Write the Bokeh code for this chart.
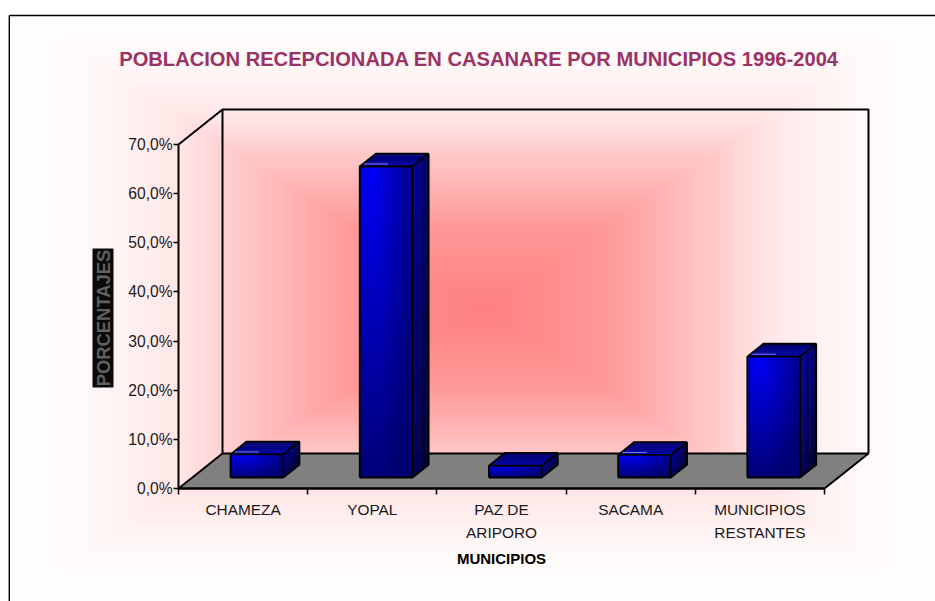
import numpy as np
from bokeh.embed import file_html
from bokeh.models import FixedTicker, Label, Range1d
from bokeh.plotting import figure
from bokeh.resources import INLINE

TITLE = "POBLACION RECEPCIONADA EN CASANARE POR MUNICIPIOS 1996-2004"
CATEGORIES = ["CHAMEZA", "YOPAL", "PAZ DE\nARIPORO", "SACAMA", "MUNICIPIOS\nRESTANTES"]
VALUES = [4.7, 63.3, 2.4, 4.6, 24.6]
Y_TICKS = [0, 10, 20, 30, 40, 50, 60, 70]
Y_LABELS = ["0,0%", "10,0%", "20,0%", "30,0%", "40,0%", "50,0%", "60,0%", "70,0%"]
X_TITLE = "MUNICIPIOS"
Y_TITLE = "PORCENTAJES"

W, H = 935, 601
PX_U = 129.2
PX_V = 4.914
X0_PAGE, Y0_PAGE = 178.0, 488.0
DEPTH_U = 44 / PX_U
DEPTH_V = 35 / PX_V
BAR_W = 0.408
BAR_Z0, BAR_Z1 = 0.314, 0.68


def X(page_x):
    return (page_x - X0_PAGE) / PX_U


def Y(page_y):
    return (Y0_PAGE - page_y) / PX_V


p = figure(
    width=W, height=H, output_backend="svg", toolbar_location=None,
    x_range=Range1d(X(0), X(W)), y_range=Range1d(Y(H), Y(0)),
    min_border=0, min_border_left=0, min_border_right=0, min_border_top=0, min_border_bottom=0,
    x_axis_location="below", y_axis_location="left",
)
p.outline_line_color = None
p.grid.visible = False
p.background_fill_color = "white"
p.border_fill_color = "white"

# chart-wide rectangular path gradient
cx, cy = 480.0, 308.0
yy, xx = np.mgrid[0:H, 0:W]
px = xx + 0.5
py = (H - 1 - yy) + 0.5  # image rows run upward
tx = np.where(px < cx, (cx - px) / 450.0, (px - cx) / 430.0)
ty = np.where(py < cy, (cy - py) / 285.0, (py - cy) / 275.0)
t = np.clip(np.maximum(tx, ty), 0, 1)
a = np.interp(t, [0, 0.29, 0.55, 0.67, 0.8, 0.92, 1], [1, 0.8, 0.4, 0.19, 0.09, 0.03, 0.012])
bg = np.zeros((H, W), dtype=np.uint32)
view = bg.view(np.uint8).reshape((H, W, 4))
g = (255 - 127 * a).astype(np.uint8)
outside = (px < 9) | (py < 15)
g[outside] = 255
view[..., 0] = 255
view[..., 1] = g
view[..., 2] = g
view[..., 3] = 255
p.image_rgba(image=[bg], x=[X(0)], y=[Y(H)], dw=[W / PX_U], dh=[H / PX_V])

# outer frame
p.segment(x0=[X(8.8), X(8.8)], y0=[Y(15), Y(15)], x1=[X(W), X(8.8)], y1=[Y(15), Y(H)],
          line_color="black", line_width=1.4)

# floor
n = len(CATEGORIES)
p.patch([0, n, n + DEPTH_U, DEPTH_U], [0, 0, DEPTH_V, DEPTH_V], fill_color="#808080",
        line_color="black", line_width=2)
# walls
top = Y_TICKS[-1]
p.line([0, DEPTH_U, n + DEPTH_U, n + DEPTH_U], [top, top + DEPTH_V, top + DEPTH_V, DEPTH_V],
       line_color="black", line_width=2)
p.line([DEPTH_U, DEPTH_U], [DEPTH_V, top + DEPTH_V], line_color="black", line_width=2)


def lerp_col(c1, c2, f):
    return "#%02x%02x%02x" % tuple(int(round(a_ + (b_ - a_) * f)) for a_, b_ in zip(c1, c2))


for i, v in enumerate(VALUES):
    xc = i + 0.5
    x0 = xc - BAR_W / 2 + BAR_Z0 * DEPTH_U
    x1 = x0 + BAR_W
    y0 = BAR_Z0 * DEPTH_V
    y1 = y0 + v
    dxb = (BAR_Z1 - BAR_Z0) * DEPTH_U
    dyb = (BAR_Z1 - BAR_Z0) * DEPTH_V

    # side face: slanted strips
    ns, nv = 7, 6
    for s in range(ns):
        fa, fb = s / ns, (s + 1) / ns
        for k in range(nv):
            ga, gb = k / nv, (k + 1) / nv
            shade = (0.5 * fa + 0.5 * ga)
            c = lerp_col((0, 0, 150), (0, 0, 28), shade)
            xs = [x1 + dxb * fa, x1 + dxb * fb, x1 + dxb * fb, x1 + dxb * fa]
            ya = y1 - v * ga
            yb = y1 - v * gb
            ys = [ya + dyb * fa, ya + dyb * fb, yb + dyb * fb, yb + dyb * fa]
            p.patch(xs, ys, fill_color=c, line_color=c, line_width=0.6)
    # top face: bands parallel to the front edge
    for s in range(6):
        fa, fb = s / 6, (s + 1) / 6
        c = lerp_col((0, 0, 165), (0, 0, 105), fa)
        xs = [x0 + dxb * fa, x1 + dxb * fa, x1 + dxb * fb, x0 + dxb * fb]
        ys = [y1 + dyb * fa, y1 + dyb * fa, y1 + dyb * fb, y1 + dyb * fb]
        p.patch(xs, ys, fill_color=c, line_color=c, line_width=0.6)

    # front face gradient
    ny, nx = 80, 60
    vv, uu = np.mgrid[0:ny, 0:nx]
    fu = (uu + 0.5) / nx
    fv = 1 - (vv + 0.5) / ny  # 0 at the top
    d = np.clip(np.sqrt(((fu - 0.22) / 0.95) ** 2 + (fv / 1.05) ** 2), 0, 1)
    blue = (255 - 140 * d ** 0.9).astype(np.uint8)
    img = np.zeros((ny, nx), dtype=np.uint32)
    iv = img.view(np.uint8).reshape((ny, nx, 4))
    iv[..., 2] = blue
    iv[..., 3] = 255
    p.image_rgba(image=[img], x=[x0], y=[y0], dw=[BAR_W], dh=[v])

    # edges
    p.multi_line(
        xs=[[x0, x1, x1, x0, x0], [x0, x0 + dxb, x1 + dxb, x1], [x1 + dxb, x1 + dxb, x1]],
        ys=[[y0, y0, y1, y1, y0], [y1, y1 + dyb, y1 + dyb, y1], [y1 + dyb, y0 + dyb, y0]],
        line_color="black", line_width=1.9,
    )
    # small glint on the top face of the front edge
    if v > 4:
        p.line([x0 + 0.03, x0 + 0.22], [y1 + 0.5, y1 + 0.5], line_color="#b0b0ff",
               line_width=1, line_alpha=0.7)

# axes placed on the front edge of the 3-D box
xa = p.xaxis[0]
xa.fixed_location = 0
xa.bounds = (0, n)
xa.ticker = FixedTicker(ticks=[i + 0.5 for i in range(n)], minor_ticks=list(range(n + 1)))
xa.major_label_overrides = {i + 0.5: c for i, c in enumerate(CATEGORIES)}
xa.major_tick_line_color = None
xa.major_tick_out = 0
xa.major_tick_in = 0
xa.minor_tick_out = 6
xa.minor_tick_in = 0
xa.minor_tick_line_color = "black"
xa.minor_tick_line_width = 1.5
xa.axis_line_color = "black"
xa.axis_line_width = 2
xa.major_label_standoff = 6
xa.major_label_text_font = "Liberation Sans"
xa.major_label_text_font_size = "15.4px"
xa.major_label_text_color = "#1a1a1a"
xa.major_label_text_line_height = 1.4
xa.axis_label = X_TITLE
xa.axis_label_text_font = "Liberation Sans"
xa.axis_label_text_font_style = "bold"
xa.axis_label_text_font_size = "15px"
xa.axis_label_text_color = "black"
xa.axis_label_standoff = 6

ya_ = p.yaxis[0]
ya_.fixed_location = 0
ya_.bounds = (0, top)
ya_.ticker = FixedTicker(ticks=Y_TICKS, minor_ticks=[])
ya_.major_label_overrides = {t_: s for t_, s in zip(Y_TICKS, Y_LABELS)}
ya_.major_tick_out = 5
ya_.major_tick_in = 0
ya_.major_tick_line_color = "black"
ya_.major_tick_line_width = 1.5
ya_.axis_line_color = "black"
ya_.axis_line_width = 2
ya_.major_label_standoff = 1
ya_.major_label_text_font = "Liberation Sans"
ya_.major_label_text_font_size = "15.6px"
ya_.major_label_text_color = "#1a1a1a"

# y title box
p.quad(left=[X(92)], right=[X(113)], bottom=[Y(387)], top=[Y(248)],
       fill_color="#0a0a0a", line_color=None)
p.add_layout(Label(x=X(103), y=Y(317.5), text=Y_TITLE, angle=90, angle_units="deg",
                   text_font="Liberation Sans", text_font_style="bold", text_font_size="18.4px",
                   text_color="#606060", text_align="center", text_baseline="middle"))

p.add_layout(Label(x=X(478.5), y=Y(58), text=TITLE, text_font="Liberation Sans",
                   text_font_style="bold", text_font_size="20.15px", text_color="#993366",
                   text_align="center", text_baseline="middle"))

open("out.html", "w").write(file_html(p, INLINE))
